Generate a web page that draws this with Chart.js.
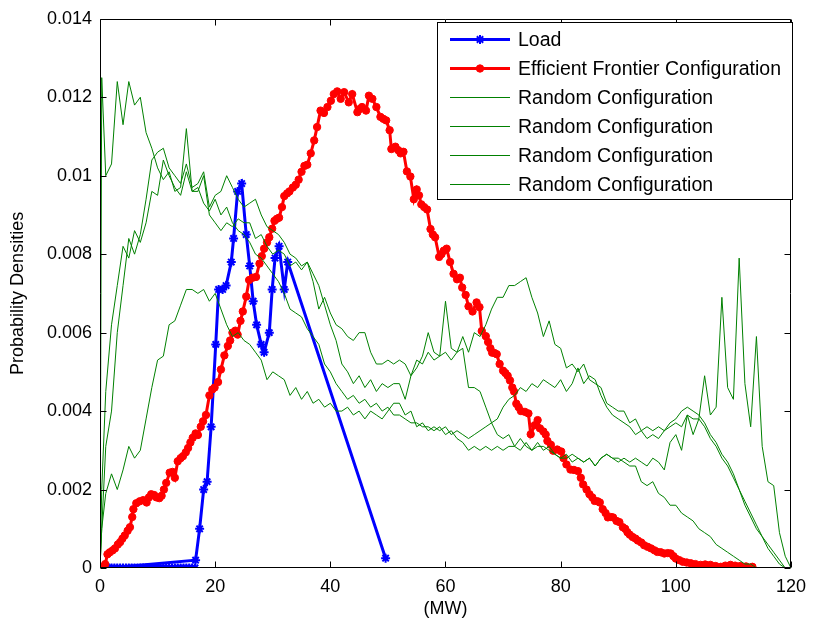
<!DOCTYPE html>
<html>
<head>
<meta charset="utf-8">
<script src="https://cdn.jsdelivr.net/npm/chart.js@4/dist/chart.umd.min.js"></script>
<style>
html,body{margin:0;padding:0;background:#fff;}
#wrap{width:814px;height:626px;}
</style>
</head>
<body>
<div id="wrap"><canvas id="c" width="814" height="626"></canvas></div>
<script>
// ---------------- data ----------------
const seriesLabels = ['Load', 'Efficient Frontier Configuration',
  'Random Configuration', 'Random Configuration', 'Random Configuration', 'Random Configuration'];

const xTickValues = [0, 20, 40, 60, 80, 100, 120];
const yTickLabels = ['0', '0.002', '0.004', '0.006', '0.008', '0.01', '0.012', '0.014'];

const loadX = [0,0.5,1,1.5,2,2.5,3,3.5,4,4.5,5,5.5,6,6.5,7,7.5,8,8.5,9,9.5,10,10.5,11,11.5,12,12.5,13,13.5,14,14.5,15,15.5,16,16.5,
  1.5,16.6,17.3,18.0,18.6,19.3,20.1,20.6,21.3,21.9,22.8,23.2,23.9,24.6,25.4,26.0,26.6,27.2,28.0,28.5,29.4,29.9,30.4,31.1,32.0,32.6,49.6];
const loadY = [0,0,0,0,0,0,0,0,0,0,0,0,0,0,0,0,0,0,0,0,0,0,0,0,0,0,0,0,0,0,0,0,0,0,
  0,0.0002,0.0010,0.0020,0.0022,0.0036,0.0057,0.0071,0.0071,0.0072,0.0078,0.0084,0.0096,0.0098,0.0085,0.0077,0.0068,0.0062,0.0057,0.0055,0.0060,0.0071,0.0079,0.0082,0.0071,0.0078,0.00025];

const effX = [0,0.5,0.9,1.3,1.7,2.2,2.6,3.1,3.5,3.9,4.3,4.8,5.2,5.6,5.8,6.3,6.9,7.5,8.1,8.5,8.9,9.4,9.8,10.3,10.7,11.1,11.5,12.1,12.6,13.0,13.5,14.0,14.4,14.9,15.3,15.7,16.1,16.6,17.0,17.5,17.9,18.4,19.0,19.5,19.9,
  20.5,21.0,21.6,22.2,22.6,23.0,23.5,23.9,24.4,24.8,25.4,25.9,26.5,27.1,27.7,28.1,28.5,29.0,29.4,29.9,30.3,30.7,31.1,31.6,32.0,32.5,32.9,33.5,34.0,34.5,35.0,35.5,36.0,36.6,37.2,37.7,38.3,38.9,39.5,40.1,40.6,41.2,41.8,42.4,43.2,43.8,44.7,45.1,45.5,46.2,46.7,47.3,48.0,48.7,49.2,49.7,
  50.3,50.6,51.3,51.8,52.2,52.7,53.3,53.9,54.5,55.0,55.4,55.8,56.3,56.8,57.4,57.8,58.2,58.9,59.3,59.7,60.2,60.8,61.4,62.0,62.5,62.9,63.5,64.0,64.7,65.4,65.9,66.3,67.0,67.4,67.8,68.1,68.5,68.9,69.4,70.0,70.4,70.8,71.2,71.6,71.9,72.3,72.7,73.1,73.8,74.4,74.8,75.5,76.0,76.4,77.0,77.4,77.7,78.3,78.7,79.4,
  80.1,80.5,81.0,81.7,82.3,83.0,83.5,83.9,84.5,85.0,85.5,85.9,86.4,86.8,87.3,87.8,88.2,88.7,89.1,89.7,90.2,90.8,91.2,91.6,92.0,92.5,93.0,93.4,94.0,94.5,95.1,95.7,96.3,96.8,97.4,98.0,98.6,99.1,99.6,
  100.0,100.6,101.2,101.9,102.6,103.4,104.3,105.1,106.0,106.9,107.8,108.6,109.5,110.3,111.2,112.2,113.3];
const effY = [0,0.00002,0.0001,0.00035,0.0004,0.00045,0.0005,0.0006,0.00066,0.00075,0.00083,0.00095,0.00104,0.0013,0.0015,0.00165,0.0017,0.00173,0.00167,0.0018,0.00188,0.00186,0.0018,0.00178,0.00184,0.002,0.00217,0.00243,0.00245,0.0023,0.00272,0.0028,0.00285,0.00295,0.00306,0.0032,0.00332,0.00343,0.00339,0.0036,0.00374,0.0039,0.0044,0.00455,0.0046,
  0.00474,0.00506,0.00542,0.00566,0.0058,0.006,0.00605,0.00595,0.0063,0.00654,0.00692,0.00734,0.0074,0.00742,0.00776,0.00795,0.00814,0.0083,0.00843,0.00865,0.00885,0.0089,0.00893,0.0092,0.00948,0.00955,0.0096,0.0097,0.00977,0.0099,0.0101,0.01025,0.01028,0.01057,0.0109,0.01124,0.01166,0.0116,0.01175,0.01191,0.01208,0.01215,0.01196,0.01213,0.01187,0.01208,0.01162,0.0117,0.01175,0.01166,0.01204,0.01196,0.01175,0.0115,0.01145,0.01141,
  0.01116,0.01068,0.01074,0.01065,0.01057,0.01061,0.01011,0.00998,0.0094,0.00965,0.0095,0.00927,0.0092,0.00914,0.00864,0.0085,0.00843,0.00793,0.008,0.00809,0.00814,0.0078,0.0075,0.00736,0.0074,0.00715,0.00696,0.00667,0.00654,0.00677,0.00665,0.00604,0.00591,0.00576,0.0056,0.00549,0.00548,0.00545,0.0052,0.00503,0.00497,0.0049,0.00478,0.0046,0.0045,0.00419,0.0041,0.004,0.00398,0.00394,0.00341,0.00364,0.00377,0.00356,0.00348,0.0034,0.00324,0.00314,0.00299,0.00302,
  0.00297,0.0028,0.00264,0.00251,0.0025,0.00247,0.0023,0.00213,0.002,0.00188,0.0018,0.00171,0.0017,0.00167,0.0015,0.0014,0.00129,0.0013,0.00129,0.0012,0.00117,0.00104,0.001,0.00091,0.00085,0.00079,0.00075,0.0007,0.00065,0.00058,0.00054,0.0005,0.00045,0.00041,0.0004,0.00037,0.00038,0.00037,0.0003,
  0.00024,0.0002,0.00016,0.00014,0.00012,0.0001,0.00008,0.00009,0.00008,0.00005,0.00003,0.00006,0.00008,0.00006,0.00005,0.00004,0.00003];

// sampling grid of the random configurations (MW)
const randX = [0, 0.3].concat(Array.from({length: 120}, (_, i) => i + 1));

const rand1 = [0,0.0125,
  0.0100,0.0103,0.0124,0.0113,0.0124,0.0118,0.0120,0.0111,0.0107,0.0102,
  0.0099,0.0101,0.0096,0.0097,0.0112,0.0096,0.0096,0.0100,0.0090,0.0088,
  0.0086,0.0088,0.0087,0.0089,0.0088,0.0088,0.0084,0.0085,0.0082,0.0080,
  0.0081,0.0080,0.0077,0.0078,0.0076,0.0078,0.0073,0.0066,0.0069,0.0065,
  0.0062,0.0061,0.0059,0.0058,0.0060,0.0060,0.0055,0.0052,0.0052,0.0053,
  0.0052,0.0053,0.0052,0.0049,0.0051,0.0054,0.0060,0.0055,0.0054,0.0068,
  0.0056,0.0055,0.0059,0.0055,0.0060,0.0059,0.0062,0.0066,0.0069,0.0069,
  0.0072,0.0072,0.0073,0.0074,0.0069,0.0065,0.0059,0.0063,0.0057,0.0056,
  0.0051,0.0052,0.0050,0.0052,0.0048,0.0047,0.0046,0.0042,0.0041,0.0040,
  0.0040,0.0037,0.0038,0.0035,0.0036,0.0035,0.0036,0.0035,0.0037,0.0038,
  0.0040,0.0041,0.0040,0.0039,0.0037,0.0034,0.0032,0.0029,0.0027,0.0024,
  0.0020,0.0017,0.0014,0.0011,0.0008,0.0006,0.0004,0.0002,0,0];

const rand2 = [0,0.0010,
  0.0031,0.0040,0.0060,0.0072,0.0084,0.0080,0.0085,0.0094,0.0104,0.0106,
  0.0107,0.0102,0.0100,0.0098,0.0103,0.0097,0.0098,0.0101,0.0092,0.0095,
  0.0096,0.0100,0.0097,0.0094,0.0092,0.0093,0.0094,0.0090,0.0087,0.0086,
  0.0085,0.0083,0.0080,0.0079,0.0077,0.0078,0.0075,0.0072,0.0067,0.0062,
  0.0058,0.0052,0.0050,0.0047,0.0049,0.0046,0.0048,0.0045,0.0047,0.0046,
  0.0047,0.0047,0.0043,0.0049,0.0053,0.0052,0.0055,0.0053,0.0054,0.0055,
  0.0053,0.0055,0.0056,0.0046,0.0046,0.0045,0.0041,0.0037,0.0034,0.0033,
  0.0034,0.0031,0.0033,0.0031,0.0030,0.0032,0.0030,0.0031,0.0029,0.0028,
  0.0029,0.0027,0.0028,0.0027,0.0028,0.0026,0.0028,0.0029,0.0028,0.0028,
  0.0027,0.0026,0.0026,0.0022,0.0021,0.0022,0.0019,0.0018,0.0016,0.0016,
  0.0014,0.0013,0.0012,0.0010,0.0009,0.0008,0.0006,0.0005,0.0004,0.0003,
  0.0002,0.0001,0.0001,0,0,0,0,0,0,0];

const rand3 = [0,0.0010,
  0.0019,0.0024,0.0020,0.0025,0.0031,0.0028,0.0030,0.0038,0.0046,0.0053,
  0.0054,0.0062,0.0063,0.0067,0.0071,0.0071,0.0070,0.0071,0.0068,0.0070,
  0.0066,0.0062,0.0059,0.0060,0.0058,0.0057,0.0055,0.0053,0.0048,0.0050,
  0.0049,0.0048,0.0044,0.0046,0.0043,0.0045,0.0042,0.0043,0.0041,0.0042,
  0.0040,0.0040,0.0041,0.0039,0.0040,0.0038,0.0040,0.0039,0.0038,0.0040,
  0.0042,0.0042,0.0039,0.0040,0.0036,0.0037,0.0035,0.0036,0.0035,0.0036,
  0.0034,0.0035,0.0034,0.0033,0.0034,0.0035,0.0036,0.0037,0.0038,0.0041,
  0.0043,0.0044,0.0046,0.0045,0.0047,0.0046,0.0048,0.0047,0.0046,0.0048,
  0.0045,0.0047,0.0051,0.0047,0.0049,0.0048,0.0044,0.0041,0.0039,0.0038,
  0.0037,0.0036,0.0034,0.0035,0.0033,0.0034,0.0033,0.0035,0.0036,0.0037,
  0.0036,0.0039,0.0038,0.0038,0.0036,0.0033,0.0031,0.0028,0.0026,0.0023,
  0.0020,0.0016,0.0013,0.0010,0.0008,0.0005,0.0003,0.0001,0,0];

const rand4 = [0,0.0020,
  0.0045,0.0062,0.0072,0.0082,0.0079,0.0086,0.0083,0.0088,0.0096,0.0095,
  0.0104,0.0100,0.0097,0.0095,0.0101,0.0096,0.0097,0.0093,0.0091,0.0094,
  0.0090,0.0092,0.0088,0.0086,0.0085,0.0083,0.0080,0.0079,0.0077,0.0075,
  0.0073,0.0070,0.0066,0.0065,0.0064,0.0061,0.0059,0.0057,0.0052,0.0050,
  0.0047,0.0045,0.0043,0.0044,0.0042,0.0043,0.0041,0.0042,0.0040,0.0041,
  0.0039,0.0039,0.0038,0.0037,0.0037,0.0036,0.0036,0.0035,0.0036,0.0034,
  0.0035,0.0033,0.0032,0.0030,0.0031,0.0030,0.0031,0.0030,0.0031,0.0030,
  0.0031,0.0031,0.0030,0.0032,0.0030,0.0031,0.0031,0.0030,0.0029,0.0028,
  0.0028,0.0029,0.0028,0.0027,0.0028,0.0026,0.0028,0.0029,0.0028,0.0027,
  0.0028,0.0027,0.0028,0.0027,0.0026,0.0028,0.0027,0.0025,0.0032,0.0034,
  0.0030,0.0039,0.0034,0.0038,0.0049,0.0039,0.0041,0.0069,0.0046,0.0043,
  0.0079,0.0047,0.0036,0.0059,0.0031,0.0022,0.0021,0.0009,0.0003,0];

// ---------------- helpers ----------------
const pts = (xs, ys) => xs.map((x, i) => ({x: x, y: ys[i]}));
const FONT = '"Liberation Sans", Arial, Helvetica, sans-serif';
const GREEN = '#008000';

function drawMarker(ctx, style, cx, cy, r) {
  ctx.beginPath();
  if (style === 'circle') {
    ctx.arc(cx, cy, r, 0, Math.PI * 2);
    ctx.fill();
    ctx.stroke();
  } else if (style === 'star') {
    const d = r * Math.SQRT1_2;
    ctx.moveTo(cx - r, cy); ctx.lineTo(cx + r, cy);
    ctx.moveTo(cx, cy - r); ctx.lineTo(cx, cy + r);
    ctx.moveTo(cx - d, cy - d); ctx.lineTo(cx + d, cy + d);
    ctx.moveTo(cx - d, cy + d); ctx.lineTo(cx + d, cy - d);
    ctx.stroke();
  }
}

const boxAxes = {
  id: 'boxAxes',
  afterDatasetsDraw(chart) {
    const {ctx, chartArea: a, scales: {x, y}} = chart;
    const L = Math.round(a.left) + 0.5, R = Math.round(a.right) - 0.5;
    const T = Math.round(a.top) + 0.5, B = Math.round(a.bottom) - 0.5;
    ctx.save();
    ctx.strokeStyle = '#000';
    ctx.lineWidth = 1;
    ctx.beginPath();
    ctx.rect(L, T, R - L, B - T);
    x.ticks.forEach(t => {
      const px = Math.round(x.getPixelForValue(t.value)) + 0.5;
      ctx.moveTo(px, B); ctx.lineTo(px, B - 6);
      ctx.moveTo(px, T); ctx.lineTo(px, T + 6);
    });
    y.ticks.forEach(t => {
      const py = Math.round(y.getPixelForValue(t.value)) + 0.5;
      ctx.moveTo(L, py); ctx.lineTo(L + 6, py);
      ctx.moveTo(R, py); ctx.lineTo(R - 6, py);
    });
    ctx.stroke();
    ctx.restore();
  }
};

const boxLegend = {
  id: 'boxLegend',
  afterDraw(chart, args, o) {
    const ctx = chart.ctx;
    ctx.save();
    ctx.fillStyle = '#fff';
    ctx.fillRect(o.x, o.y, o.w, o.h);
    ctx.strokeStyle = '#000';
    ctx.lineWidth = 1;
    ctx.strokeRect(o.x + 0.5, o.y + 0.5, o.w, o.h);
    ctx.font = o.font;
    ctx.textBaseline = 'middle';
    ctx.textAlign = 'left';
    chart.data.datasets.forEach((ds, i) => {
      const cy = Math.round(o.y + o.first + i * o.row) + 0.5;
      ctx.strokeStyle = ds.borderColor;
      ctx.lineWidth = ds.borderWidth;
      ctx.beginPath();
      ctx.moveTo(o.x + o.l0, cy);
      ctx.lineTo(o.x + o.l1, cy);
      ctx.stroke();
      if (ds.pointRadius > 0) {
        ctx.fillStyle = ds.pointBackgroundColor;
        ctx.lineWidth = ds.pointBorderWidth;
        drawMarker(ctx, ds.pointStyle, o.x + (o.l0 + o.l1) / 2, cy, ds.pointRadius);
      }
      ctx.fillStyle = '#000';
      ctx.fillText(ds.label, o.x + o.tx, cy + 1);
    });
    ctx.restore();
  }
};

const greenDs = (label, ys, order) => ({
  label: label, data: pts(randX, ys), borderColor: GREEN, backgroundColor: GREEN,
  borderWidth: 1, pointRadius: 0, tension: 0, order: order
});

new Chart(document.getElementById('c'), {
  type: 'line',
  data: {
    datasets: [
      { label: seriesLabels[0], data: pts(loadX, loadY), borderColor: '#0000ff', backgroundColor: '#0000ff',
        borderWidth: 3, pointStyle: 'star', pointRadius: 4.5, pointBorderWidth: 2,
        pointBackgroundColor: '#0000ff', pointBorderColor: '#0000ff', tension: 0, order: 6 },
      { label: seriesLabels[1], data: pts(effX, effY), borderColor: '#ff0000', backgroundColor: '#ff0000',
        borderWidth: 3, pointStyle: 'circle', pointRadius: 3.7, pointBorderWidth: 1,
        pointBackgroundColor: '#ff0000', pointBorderColor: '#ff0000', tension: 0, order: 5 },
      greenDs(seriesLabels[2], rand1, 4),
      greenDs(seriesLabels[3], rand2, 3),
      greenDs(seriesLabels[4], rand3, 2),
      greenDs(seriesLabels[5], rand4, 1)
    ]
  },
  options: {
    responsive: false,
    animation: false,
    devicePixelRatio: 1,
    layout: { padding: { top: 12, right: 20, left: 0, bottom: 0 } },
    plugins: {
      legend: { display: false },
      tooltip: { enabled: false },
      boxLegend: { x: 437, y: 22, w: 355, h: 177, first: 17, row: 29, l0: 13, l1: 73, tx: 81,
        font: '19.5px ' + FONT }
    },
    scales: {
      x: {
        type: 'linear', min: 0, max: 120,
        afterBuildTicks: s => { s.ticks = xTickValues.map(v => ({value: v})); },
        ticks: { font: { family: FONT, size: 18 }, color: '#000', padding: 8, maxRotation: 0, autoSkip: false },
        grid: { display: false, drawTicks: false },
        border: { display: false },
        title: { display: true, text: '(MW)', color: '#000', font: { family: FONT, size: 18 }, padding: { top: 0, bottom: 6 } },
        afterFit: s => { s.height = 58; }
      },
      y: {
        type: 'linear', min: 0, max: 0.014,
        afterBuildTicks: s => { s.ticks = yTickLabels.map((l, i) => ({value: i * 0.002})); },
        ticks: { font: { family: FONT, size: 18 }, color: '#000', padding: 8, autoSkip: false,
          callback: (v, i) => yTickLabels[i] },
        grid: { display: false, drawTicks: false },
        border: { display: false },
        title: { display: true, text: 'Probability Densities', color: '#000', font: { family: FONT, size: 18 }, padding: { top: 7, bottom: 0 } },
        afterFit: s => { s.width = 100; }
      }
    }
  },
  plugins: [boxAxes, boxLegend]
});
</script>
</body>
</html>
